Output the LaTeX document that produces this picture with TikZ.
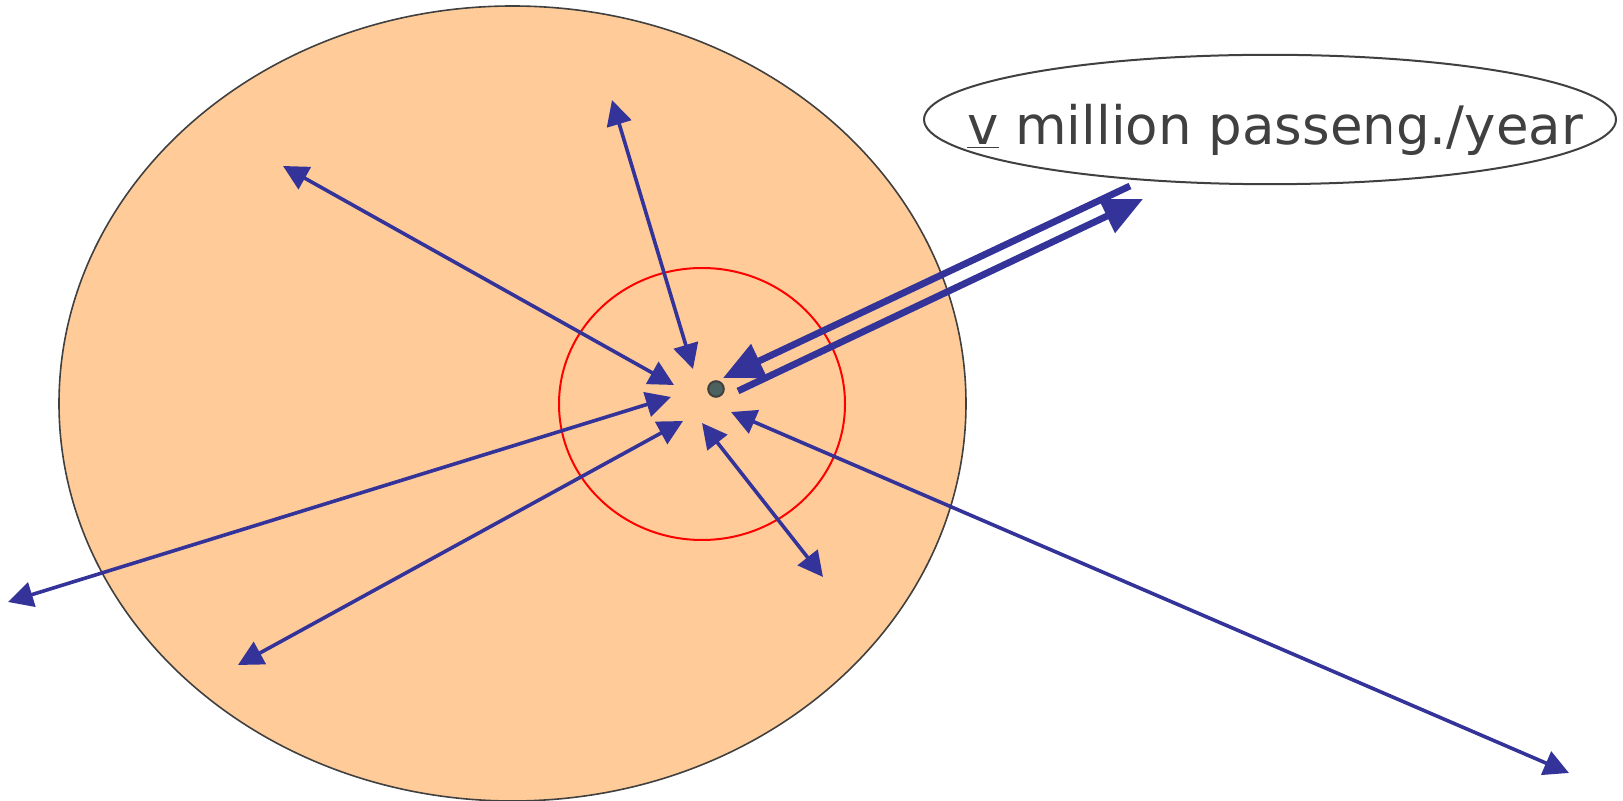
\documentclass[tikz,border=0pt]{standalone}
\usepackage{fontspec}
\setmainfont{DejaVu Sans}
\usetikzlibrary{arrows.meta,shapes.geometric}
\definecolor{arrowblue}{HTML}{333399}
\definecolor{peach}{HTML}{FFCC99}
\definecolor{outlinegray}{HTML}{404040}
\definecolor{dotfill}{HTML}{4D625E}
\begin{document}
\begin{tikzpicture}[x=0.5pt,y=-0.5pt,
  thinhead/.tip={Triangle[length=12.5pt,width=12.5pt]},
  bighead/.tip={Triangle[length=20pt,width=18pt]},
  thinarrow/.style={draw=arrowblue, line width=1.8pt, thinhead-thinhead},
  thickarrow/.style={draw=arrowblue, line width=3.4pt, -bighead},
  labelellipse/.style={ellipse, draw=outlinegray, line width=1pt, fill=white,
    minimum width=346pt, minimum height=64.7pt, inner sep=0pt},
  labeltext/.style={text=outlinegray, font=\fontsize{26.5pt}{32pt}\selectfont, inner sep=0pt},
  airport/.style={circle, draw=outlinegray, line width=1pt, fill=dotfill,
    minimum size=7.8pt, inner sep=0pt}]
\useasboundingbox (0,0) rectangle (1623,801);
% catchment area
\draw[fill=peach, draw=outlinegray, line width=0.8pt]
  (512.5,403.5) ellipse [x radius=226.75pt, y radius=198.75pt];
% inner zone
\draw[red, line width=1pt] (702,404) ellipse [x radius=71.5pt, y radius=68pt];
% airport
\node[airport] (apt) at (716,389) {};
% label
\node[labelellipse] (lab) at (1270,119.5) {};
\node[labeltext, anchor=base] (labtxt) at (1275,145) {\underline{v} million passeng./year};
% end points
\coordinate (a1i) at (693,369);  \coordinate (a1o) at (612,100);
\coordinate (a2i) at (674,385);  \coordinate (a2o) at (283,166);
\coordinate (a3i) at (671,397);  \coordinate (a3o) at (8,602);
\coordinate (a4i) at (683,421);  \coordinate (a4o) at (238,665);
\coordinate (a5i) at (702,423);  \coordinate (a5o) at (823,577);
\coordinate (a6i) at (731,412);  \coordinate (a6o) at (1569,773);
\coordinate (d1s) at (1130,186); \coordinate (d1e) at (723,378);
\coordinate (d2s) at (738,391);  \coordinate (d2e) at (1143,199);
% thin two-way flows
\draw[thinarrow] (a1i) -- (a1o);
\draw[thinarrow] (a2i) -- (a2o);
\draw[thinarrow] (a3i) -- (a3o);
\draw[thinarrow] (a4i) -- (a4o);
\draw[thinarrow] (a5i) -- (a5o);
\draw[thinarrow] (a6i) -- (a6o);
% thick flows
\draw[thickarrow] (d1s) -- (d1e);
\draw[thickarrow] (d2s) -- (d2e);
\end{tikzpicture}
\end{document}
